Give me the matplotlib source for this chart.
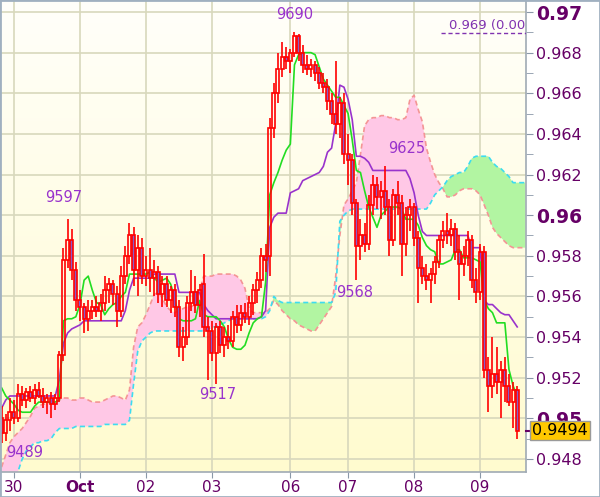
import numpy as np
import matplotlib
matplotlib.use('Agg')
from matplotlib import pyplot as plt
from matplotlib.patches import Rectangle
from matplotlib.colors import LinearSegmentedColormap

# all prices in pips (x 0.0001)
opens = [9500, 9493, 9499, 9503, 9500, 9512, 9509, 9513, 9510, 9514,
         9511, 9508, 9510, 9507, 9510, 9531, 9578, 9588, 9573, 9558,
         9555, 9549, 9553, 9555, 9553, 9557, 9563, 9566, 9561, 9553,
         9570, 9580, 9590, 9573, 9584, 9570, 9573, 9569, 9572, 9561,
         9566, 9558, 9563, 9555, 9535, 9540, 9557, 9562, 9556, 9566,
         9545, 9543, 9532, 9545, 9536, 9540, 9538, 9550, 9546, 9552,
         9550, 9557, 9563, 9568, 9580, 9580, 9643, 9660, 9672, 9678,
         9676, 9680, 9688, 9680, 9674, 9672, 9674, 9670, 9665, 9663,
         9656, 9650, 9645, 9655, 9630, 9627, 9606, 9585, 9590, 9586,
         9605, 9615, 9609, 9612, 9604, 9588, 9610, 9606, 9586, 9600,
         9604, 9589, 9574, 9570, 9568, 9571, 9577, 9588, 9592, 9590,
         9593, 9582, 9576, 9580, 9588, 9568, 9562, 9582, 9524, 9516,
         9522, 9518, 9524, 9516, 9508, 9514]
highs = [9506, 9502, 9510, 9509, 9517, 9516, 9515, 9516, 9517, 9518,
         9515, 9512, 9513, 9512, 9533, 9584, 9598, 9593, 9577, 9563,
         9557, 9558, 9558, 9560, 9561, 9570, 9569, 9568, 9565, 9575,
         9585, 9596, 9594, 9590, 9589, 9580, 9584, 9578, 9575, 9570,
         9570, 9565, 9566, 9558, 9545, 9560, 9573, 9570, 9566, 9581,
         9550, 9548, 9547, 9548, 9545, 9546, 9553, 9556, 9556, 9557,
         9560, 9566, 9572, 9584, 9586, 9648, 9665, 9680, 9685, 9683,
         9682, 9690, 9689, 9684, 9679, 9677, 9676, 9673, 9670, 9667,
         9660, 9676, 9658, 9660, 9640, 9630, 9608, 9598, 9596, 9610,
         9620, 9619, 9617, 9624, 9608, 9613, 9617, 9610, 9604, 9608,
         9606, 9592, 9580, 9576, 9574, 9580, 9590, 9597, 9601, 9598,
         9596, 9590, 9585, 9592, 9590, 9574, 9586, 9585, 9530, 9540,
         9535, 9528, 9530, 9522, 9518, 9516]
lows = [9488, 9489, 9494, 9497, 9498, 9506, 9505, 9508, 9507, 9510,
        9505, 9502, 9500, 9504, 9508, 9528, 9574, 9568, 9553, 9548,
        9542, 9543, 9549, 9550, 9548, 9553, 9557, 9556, 9545, 9550,
        9566, 9576, 9565, 9560, 9566, 9565, 9562, 9560, 9557, 9555,
        9555, 9552, 9550, 9530, 9528, 9536, 9553, 9552, 9550, 9540,
        9519, 9528, 9517, 9532, 9530, 9534, 9535, 9542, 9543, 9547,
        9546, 9551, 9557, 9564, 9572, 9570, 9638, 9655, 9668, 9672,
        9670, 9678, 9676, 9670, 9669, 9668, 9666, 9662, 9660, 9652,
        9645, 9640, 9638, 9625, 9615, 9600, 9568, 9578, 9582, 9583,
        9600, 9603, 9598, 9600, 9580, 9585, 9600, 9570, 9580, 9592,
        9585, 9557, 9566, 9563, 9557, 9566, 9574, 9584, 9586, 9585,
        9578, 9558, 9570, 9575, 9564, 9557, 9558, 9520, 9503, 9510,
        9512, 9500, 9508, 9506, 9495, 9490]
closes = [9493, 9499, 9503, 9500, 9512, 9509, 9513, 9510, 9514, 9511,
          9508, 9510, 9507, 9510, 9531, 9578, 9588, 9573, 9558, 9555,
          9549, 9553, 9555, 9553, 9557, 9563, 9566, 9561, 9553, 9570,
          9580, 9590, 9573, 9584, 9570, 9573, 9569, 9572, 9561, 9566,
          9558, 9563, 9555, 9535, 9540, 9557, 9562, 9556, 9563, 9545,
          9543, 9532, 9545, 9536, 9540, 9538, 9550, 9546, 9552, 9550,
          9557, 9563, 9568, 9580, 9578, 9643, 9660, 9672, 9678, 9676,
          9680, 9688, 9680, 9674, 9672, 9674, 9670, 9665, 9663, 9656,
          9650, 9645, 9655, 9630, 9627, 9606, 9585, 9590, 9586, 9605,
          9615, 9609, 9612, 9604, 9588, 9610, 9606, 9586, 9600, 9604,
          9589, 9574, 9570, 9568, 9571, 9577, 9588, 9592, 9590, 9593,
          9582, 9576, 9580, 9588, 9568, 9562, 9582, 9524, 9516, 9522,
          9518, 9524, 9516, 9508, 9514, 9494]

tenkan = [9515, 9511, 9509, 9507, 9504, 9503, 9503, 9503, 9506, 9508,
          9508, 9508, 9508, 9508, 9509, 9548, 9549, 9549, 9550, 9556,
          9568, 9570, 9563, 9557, 9556, 9551, 9554, 9556, 9557, 9560,
          9562, 9571, 9571, 9571, 9571, 9571, 9572, 9569, 9567, 9568,
          9569, 9566, 9559, 9549, 9548, 9548, 9548, 9549, 9558, 9551,
          9550, 9550, 9550, 9548, 9545, 9539, 9535, 9534, 9534, 9536,
          9542, 9547, 9549, 9550, 9567, 9610, 9616, 9621, 9627, 9632,
          9635, 9674, 9679, 9680, 9680, 9680, 9679, 9673, 9667, 9664,
          9661, 9658, 9658, 9654, 9650, 9637, 9622, 9621, 9612, 9604,
          9599, 9594, 9600, 9602, 9604, 9604, 9604, 9603, 9598, 9598,
          9598, 9595, 9589, 9585, 9583, 9582, 9576, 9576, 9577, 9578,
          9583, 9583, 9579, 9579, 9579, 9578, 9577, 9558, 9554, 9552,
          9547, 9547, 9547, 9524, 9516, 9511]
kijun = [9505, 9509, 9511, 9511, 9511, 9511, 9511, 9511, 9511, 9511,
         9511, 9511, 9511, 9511, 9519, 9537, 9542, 9544, 9545, 9546,
         9548, 9548, 9548, 9548, 9548, 9548, 9548, 9548, 9548, 9548,
         9553, 9563, 9569, 9569, 9569, 9569, 9569, 9571, 9571, 9571,
         9571, 9571, 9571, 9562, 9562, 9562, 9562, 9562, 9562, 9556,
         9553, 9551, 9549, 9549, 9549, 9549, 9549, 9549, 9549, 9549,
         9549, 9549, 9549, 9550, 9553, 9594, 9599, 9601, 9601, 9601,
         9611, 9612, 9613, 9617, 9618, 9619, 9620, 9621, 9624, 9631,
         9633, 9645, 9664, 9663, 9657, 9647, 9629, 9629, 9628, 9626,
         9622, 9622, 9622, 9622, 9622, 9622, 9622, 9622, 9622, 9618,
         9611, 9600, 9592, 9590, 9590, 9590, 9590, 9590, 9590, 9590,
         9590, 9590, 9590, 9590, 9584, 9584, 9584, 9558, 9556, 9556,
         9554, 9552, 9551, 9551, 9548, 9545]

# cloud, already shifted forward (runs past the last candle)
span_a = [9461, 9463, 9466, 9470, 9474, 9480, 9484, 9486, 9488, 9488,
          9489, 9489, 9490, 9493, 9495, 9495, 9495, 9495, 9496, 9496,
          9496, 9496, 9496, 9496, 9496, 9497, 9497, 9497, 9497, 9497,
          9497, 9499, 9517, 9533, 9538, 9540, 9542, 9543, 9543, 9543,
          9543, 9543, 9543, 9543, 9543, 9543, 9543, 9543, 9543, 9543,
          9544, 9545, 9545, 9546, 9547, 9548, 9549, 9549, 9549, 9549,
          9549, 9549, 9549, 9549, 9550, 9553, 9560, 9558, 9557, 9557,
          9557, 9557, 9557, 9557, 9557, 9557, 9557, 9557, 9557, 9557,
          9557, 9562, 9597, 9600, 9602, 9603, 9603, 9603, 9603, 9603,
          9603, 9603, 9603, 9603, 9603, 9603, 9603, 9603, 9603, 9603,
          9603, 9603, 9603, 9603, 9606, 9610, 9612, 9614, 9617, 9619,
          9620, 9621, 9621, 9624, 9628, 9629, 9629, 9629, 9629, 9626,
          9624, 9623, 9621, 9619, 9616, 9616, 9616, 9616]
span_b = [9476, 9482, 9488, 9491, 9493, 9495, 9498, 9501, 9505, 9506,
          9507, 9507, 9508, 9508, 9509, 9510, 9510, 9509, 9509, 9510,
          9510, 9509, 9508, 9508, 9508, 9509, 9510, 9511, 9511, 9510,
          9509, 9514, 9535, 9545, 9547, 9551, 9556, 9561, 9562, 9559,
          9555, 9553, 9552, 9553, 9554, 9555, 9555, 9556, 9563, 9570,
          9570, 9570, 9571, 9571, 9571, 9571, 9571, 9570, 9568, 9564,
          9554, 9552, 9552, 9552, 9552, 9554, 9558, 9556, 9553, 9551,
          9549, 9548, 9546, 9545, 9544, 9543, 9543, 9546, 9549, 9552,
          9555, 9570, 9590, 9605, 9608, 9612, 9616, 9630, 9644, 9647,
          9648, 9648, 9649, 9649, 9648, 9648, 9647, 9647, 9648, 9657,
          9659, 9652, 9646, 9633, 9626, 9620, 9616, 9613, 9609, 9609,
          9610, 9612, 9613, 9613, 9613, 9612, 9610, 9605, 9600, 9594,
          9591, 9589, 9587, 9585, 9584, 9584, 9584, 9584]

day_ticks = [3, 19, 35, 51, 70, 84, 100, 116]
day_labels = ['30', 'Oct', '02', '03', '06', '07', '08', '09']
price_ticks = [0.948, 0.95, 0.952, 0.954, 0.956, 0.958, 0.96,
               0.962, 0.964, 0.966, 0.968, 0.97]
price_labels = ['0.948', '0.95', '0.952', '0.954', '0.956', '0.958', '0.96',
                '0.962', '0.964', '0.966', '0.968', '0.97']
bold_prices = ['0.95', '0.96', '0.97']
ref_text = '0.969 (0.00%)'

PIP = 0.0001
o = np.array(opens) * PIP
h = np.array(highs) * PIP
l = np.array(lows) * PIP
c = np.array(closes) * PIP
tk = np.array(tenkan) * PIP
kj = np.array(kijun) * PIP
sa = np.array(span_a) * PIP
sb = np.array(span_b) * PIP
x = np.arange(len(o))
xc = np.arange(len(sa))

fig = plt.figure(figsize=(6, 4.97), dpi=100)
ax = fig.add_axes([0, 25 / 497, 526 / 600, 472 / 497])
x0, x1 = -0.39, 127.13
y0, y1 = 0.947358, 0.970591

# background gradient
bg = LinearSegmentedColormap.from_list('bg', ['#fffffa', '#fffbcf'])
grad = np.linspace(0, 1, 256).reshape(-1, 1)
ax.imshow(grad, cmap=bg, aspect='auto', extent=[x0, x1, y0, y1],
          origin='upper', zorder=0)

# cloud
ax.fill_between(xc, sa, sb, where=sb >= sa, interpolate=True,
                color='#ffc8e6', lw=0, zorder=2)
ax.fill_between(xc, sa, sb, where=sa >= sb, interpolate=True,
                color='#b2f5a2', lw=0, zorder=2)
ax.plot(xc, sb, color='#f49595', ls=(0, (3, 2)), lw=1.2, zorder=3)
ax.plot(xc, sa, color='#3ddcf0', ls=(0, (3, 2)), lw=1.2, zorder=3)

# tenkan / kijun
ax.plot(x, kj, color='#9933cc', lw=1.2, zorder=4)
ax.plot(x, tk, color='#22dd22', lw=1.2, zorder=4)

# candles
lo_b = np.minimum(o, c)
hi_b = np.maximum(o, c)
ax.vlines(x, l, lo_b, color='red', lw=1.2, zorder=5)
ax.vlines(x, hi_b, h, color='red', lw=1.2, zorder=5)
fills = ['none' if cc >= oo else '#8a5cc8' for oo, cc in zip(o, c)]
ax.bar(x, np.maximum(hi_b - lo_b, 0.00003), bottom=lo_b, width=0.72,
       color=fills, edgecolor='red', linewidth=1.2, zorder=6)

# high / low labels
lab = dict(color='#9933cc', fontsize=10.5, ha='center', va='center', zorder=7)
ax.text(71.1, 0.96990, '9690', **lab)
ax.text(15.1, 0.96085, '9597', **lab)
ax.text(98.3, 0.96326, '9625', **lab)
ax.text(85.7, 0.95617, '9568', **lab)
ax.text(52.5, 0.95115, '9517', **lab)
ax.text(5.7, 0.94830, '9489', **lab)

# reference price, top right (cut by the plot edge)
ref = ax.text(449 / 526, 1 - 25 / 472, ref_text, transform=ax.transAxes,
              color='#8033b0', fontsize=9.5, va='center', ha='left',
              zorder=7, clip_on=True)
ref.set_clip_box(ax.bbox)
ax.plot([441 / 526, 1.0], [1 - 33 / 472] * 2, transform=ax.transAxes,
        color='#8033b0', ls=(0, (3, 2)), lw=1, zorder=7)

ax.set_xlim(x0, x1)
ax.set_ylim(y0, y1)

# axes
ax.yaxis.tick_right()
ax.set_yticks(price_ticks)
ax.set_yticklabels(price_labels)
ax.set_yticks(np.array(price_ticks[:-1]) + 0.001, minor=True)
ax.tick_params(axis='y', which='both', direction='out', length=5,
               color='#8a98a8', labelcolor='#660066', labelsize=11.5, pad=2)
for t in ax.get_yticklabels():
    if t.get_text() in bold_prices:
        t.set_fontweight('bold')
        t.set_fontsize(13.5)
ax.set_xticks(day_ticks)
ax.set_xticklabels(day_labels)
ax.tick_params(axis='x', direction='out', length=4, color='#8a98a8',
               labelcolor='#660066', labelsize=11, pad=1.5)
for t in ax.get_xticklabels():
    if t.get_text() == 'Oct':
        t.set_fontweight('bold')

ax.grid(True, which='major', color='#d8d8bc', lw=1.2)
ax.set_axisbelow(True)
for s in ['top', 'left']:
    ax.spines[s].set_visible(False)
for s in ['right', 'bottom']:
    ax.spines[s].set_color('#a0aab4')
    ax.spines[s].set_linewidth(1.2)

# last price marker
last = c[-1]
ax.plot([1.0, 1.012], [last, last], transform=ax.get_yaxis_transform(),
        color='#660066', lw=1.5, clip_on=False, zorder=8)
ax.text(1.012, last, f'{last:.4f}', transform=ax.get_yaxis_transform(),
        ha='left', va='center', fontsize=11.5, color='black', zorder=9,
        bbox=dict(boxstyle='square,pad=0.12', fc='#ffc800', ec='#9a9a9a', lw=1))

fig.add_artist(Rectangle((0, 0), 1, 1, transform=fig.transFigure,
                         fill=False, ec='#a0b0c0', lw=2))

fig.savefig('out.png', dpi=100)
